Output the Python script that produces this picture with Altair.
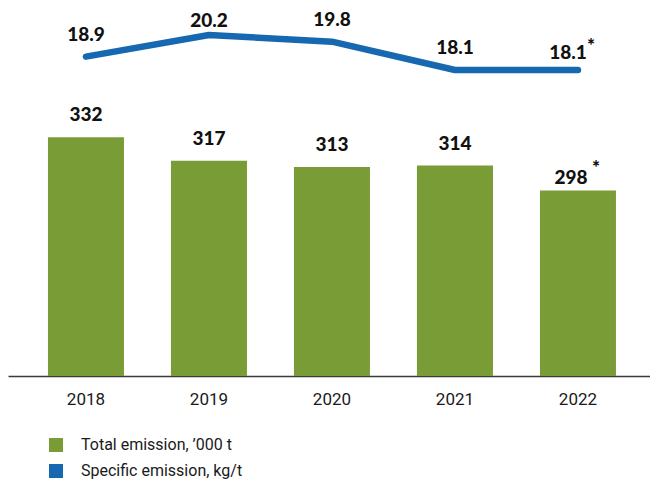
import altair as alt
import pandas as pd

years = ["2018", "2019", "2020", "2021", "2022"]
total = [332, 317, 313, 314, 298]
specific = [18.9, 20.2, 19.8, 18.1, 18.1]
notes = ["", "", "", "", "*"]
series_names = ["Total emission, \u2019000 t", "Specific emission, kg/t"]

GREEN = "#7a9c36"
BLUE = "#1668b0"
BOLD = "Lato"
NARROW = "Roboto"

df = pd.DataFrame({
    "year": years,
    "total": total,
    "specific": specific,
    "note": notes,
    "series": [series_names[0]] * len(years),
})

xenc = alt.X(
    "year:N",
    sort=years,
    scale=alt.Scale(paddingInner=0.382, paddingOuter=0.3008, align=0.54),
    axis=alt.Axis(
        title=None, labelAngle=0, ticks=False, grid=False,
        domainColor="#3a3a3a", domainWidth=1.5,
        labelFont=NARROW, labelFontSize=17, labelColor="#1a1a1a",
        labelPadding=15,
    ),
)

ybar_scale = alt.Scale(domain=[179.6, 409.5], zero=False)
yline_scale = alt.Scale(domain=[-0.26, 21.34], zero=False)

base = alt.Chart(df)

bars = base.mark_bar().encode(
    x=xenc,
    y=alt.Y("total:Q", scale=ybar_scale, axis=None),
    y2=alt.datum(179.6),
    color=alt.Color(
        "series:N",
        scale=alt.Scale(domain=series_names, range=[GREEN, BLUE]),
        legend=alt.Legend(
            title=None, orient="none", legendX=40, legendY=421,
            symbolType="square", symbolSize=196, symbolStrokeWidth=0,
            labelFont=NARROW, labelFontSize=16, labelColor="#1a1a1a",
            labelOffset=17, rowPadding=10, padding=0, labelLimit=400,
        ),
    ),
)

TXT = dict(font=BOLD, fontWeight=900, fontSize=19, color="#111")

bar_text_main = base.transform_filter(alt.datum.note == "").mark_text(
    dy=-22, **TXT
).encode(
    x=alt.X("year:N", sort=years),
    y=alt.Y("total:Q", scale=ybar_scale, axis=None),
    text="total:Q",
)

bar_text_last = base.transform_filter(alt.datum.note != "").mark_text(
    dy=-13, dx=-7, **TXT
).encode(
    x=alt.X("year:N", sort=years),
    y=alt.Y("total:Q", scale=ybar_scale, axis=None),
    text="total:Q",
)

bar_star = base.transform_filter(alt.datum.note != "").mark_text(
    dy=-23, dx=18, **TXT
).encode(
    x=alt.X("year:N", sort=years),
    y=alt.Y("total:Q", scale=ybar_scale, axis=None),
    text="note:N",
)

line = base.mark_line(
    color=BLUE, strokeWidth=6.5, strokeCap="round", strokeJoin="round"
).encode(
    x=alt.X("year:N", sort=years),
    y=alt.Y("specific:Q", scale=yline_scale, axis=None),
)

peak = max(specific)

line_text_main = base.transform_filter(
    (alt.datum.note == "") & (alt.datum.specific < peak)
).mark_text(dy=-22, **TXT).encode(
    x=alt.X("year:N", sort=years),
    y=alt.Y("specific:Q", scale=yline_scale, axis=None),
    text=alt.Text("specific:Q", format=".1f"),
)

line_text_peak = base.transform_filter(alt.datum.specific >= peak).mark_text(
    dy=-14, **TXT
).encode(
    x=alt.X("year:N", sort=years),
    y=alt.Y("specific:Q", scale=yline_scale, axis=None),
    text=alt.Text("specific:Q", format=".1f"),
)

line_text_last = base.transform_filter(alt.datum.note != "").mark_text(
    dy=-17, dx=-10, **TXT
).encode(
    x=alt.X("year:N", sort=years),
    y=alt.Y("specific:Q", scale=yline_scale, axis=None),
    text=alt.Text("specific:Q", format=".1f"),
)

line_star = base.transform_filter(alt.datum.note != "").mark_text(
    dy=-24, dx=13, **TXT
).encode(
    x=alt.X("year:N", sort=years),
    y=alt.Y("specific:Q", scale=yline_scale, axis=None),
    text="note:N",
)

chart = alt.layer(
    bars, bar_text_main, bar_text_last, bar_star,
    line, line_text_main, line_text_peak, line_text_last, line_star,
).resolve_scale(y="independent").properties(
    width=642, height=360,
    padding={"top": 8, "left": 0, "right": 0, "bottom": 106},
    autosize=alt.AutoSizeParams(type="none"),
).configure_view(stroke=None)

chart.save("out.html", embed_options={"renderer": "svg", "actions": False})
